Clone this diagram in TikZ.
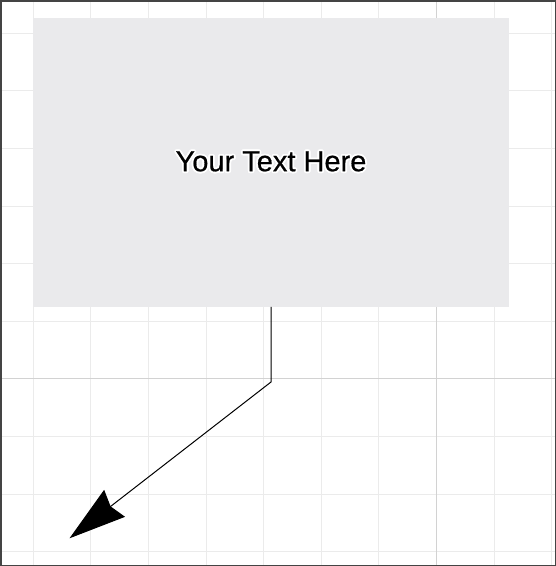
\documentclass[tikz,border=0pt]{standalone}
\usepackage{fontspec}
\setmainfont{Liberation Sans}[FakeBold=0.6]
\usepackage{contour}
\usetikzlibrary{arrows.meta}
\definecolor{boxgray}{HTML}{EAEAEC}
\definecolor{minorgrid}{HTML}{EBEBEB}
\definecolor{majorgrid}{HTML}{D2D2D2}
\definecolor{frame}{HTML}{444444}
\tikzset{
  textbox/.style={fill=boxgray, minimum width=476pt, minimum height=288.7pt,
    inner sep=0pt, font=\fontsize{29}{34}\selectfont},
  link/.style={line width=1pt, -{Stealth[length=57pt, width=34pt, inset=5pt]}}
}
\contourlength{1.8pt}
\begin{document}
\begin{tikzpicture}[x=1pt, y=-1pt]
        \useasboundingbox (0,0) rectangle (556,566);
        \fill[white] (0,0) rectangle (556,566);

        % grid
        \foreach \k in {0,...,9} {
            \draw[minorgrid, line width=1pt] (33.3+57.6*\k,0) -- (33.3+57.6*\k,566);
            \draw[minorgrid, line width=1pt] (0,33.3+57.6*\k) -- (556,33.3+57.6*\k);
        }
        \draw[majorgrid, line width=1pt] (436.5,0) -- (436.5,566);
        \draw[majorgrid, line width=1pt] (0,378.9) -- (556,378.9);
        \draw[frame, line width=1.5pt] (0.75,0.75) rectangle (555.25,565.25);

        \node[textbox] (box) at (271,162.3) {\raisebox{2pt}{\contour{white}{Your Text Here}}};
        \coordinate (bend) at (271,382);
        \coordinate (tip) at (69.5,538.3);
        \draw[link] (box.south) -- (bend) -- (tip);
    \end{tikzpicture}
\end{document}
